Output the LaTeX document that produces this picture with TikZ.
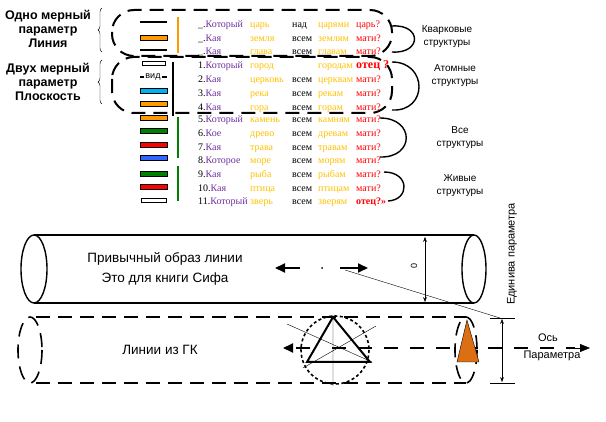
\documentclass[tikz,border=0pt]{standalone}
\usepackage{fontspec}
\setmainfont{Liberation Serif}
\newfontfamily\sansf{Liberation Sans}
\usetikzlibrary{arrows.meta,decorations.pathreplacing}
\definecolor{wpurple}{RGB}{112,48,160}
\definecolor{wgold}{RGB}{255,192,0}
\definecolor{wcyan}{RGB}{0,176,240}
\definecolor{wgreen}{RGB}{0,128,0}
\definecolor{wblue}{RGB}{51,102,255}
\definecolor{worange}{RGB}{255,153,0}
\definecolor{cone}{RGB}{220,110,20}
\tikzset{
  lbl/.style={font=\sansf\bfseries\fontsize{12.5}{14}\selectfont, align=center},
  side/.style={font=\sansf\fontsize{10}{13}\selectfont, align=center},
  cell/.style={anchor=base west, inner sep=0pt, font=\fontsize{10}{10}\selectfont},
  bar/.style={draw=black, line width=0.6pt},
  bigdash/.style={line width=2pt, dash pattern=on 14pt off 8pt},
  arcb/.style={line width=1.4pt}
}
\newcommand{\wrow}[7]{%
  \node[cell] at (198,#1+3.5) {#2\textcolor{wpurple}{#3}};
  \node[cell, text=wgold] at (250,#1+3.5) {#4};
  \node[cell] at (292,#1+3.5) {#5};
  \node[cell, text=wgold] at (318,#1+3.5) {#6};
  \node[cell, text=red] at (356,#1+3.5) {#7};}
\begin{document}
\begin{tikzpicture}[x=1pt, y=-1pt]
  \useasboundingbox (0,0) rectangle (606,422);
  % left labels
  \node[lbl] (one) at (48,29) {Одно мерный\\параметр\\Линия};
  \node[lbl] (two) at (48,82) {Двух мерный\\параметр\\Плоскость};
  \draw[decorate, decoration={brace, amplitude=4pt}] (102,52) -- (102,8);
  \draw[decorate, decoration={brace, amplitude=4pt}] (102,104) -- (102,60);
  % dashed groups
  \draw[bigdash, rounded corners=22pt] (112,10) rectangle (392,56);
  \draw[bigdash, rounded corners=22pt] (112,57) rectangle (392,113);
  % bars
  \draw[line width=1.5pt] (140,22) -- (167,22);
  \draw[bar, fill=worange] (140,35) rectangle (167,40);
  \draw[line width=1.5pt] (140,50) -- (167,50);
  \draw[bar, fill=white] (142,61) rectangle (165,65);
  \node[font=\sansf\fontsize{9}{9}\selectfont, fill=white, inner sep=1pt] (vid) at (153,77) {вид};
  \draw[line width=1.2pt] (140,77) -- (vid.west) (vid.east) -- (167,77);
  \foreach \y/\c in {88/wcyan, 101/worange, 115/worange, 128/wgreen, 142/red, 155/wblue, 171/wgreen, 184/red}
    \draw[bar, fill=\c] (140,\y) rectangle (167,\y+5);
  \draw[bar, fill=white] (141,198) rectangle (166,202);
  \draw[worange, line width=2pt] (178,17) -- (178,53);
  \draw[line width=2pt] (173,62) -- (173,116);
  \draw[wgreen, line width=2pt] (178,117) -- (178,158);
  \draw[wgreen, line width=2pt] (178,166) -- (178,201);
  % text rows
  \wrow{24}{\_.}{Который}{царь}{над}{царями}{царь?}
  \wrow{38}{\_.}{Кая}{земля}{всем}{землям}{мати?}
  \wrow{51}{\_.}{Кая}{глава}{всем}{главам}{мати?}
  \wrow{65}{1.}{Который}{город}{}{городам}{\textbf{\fontsize{12}{12}\selectfont отец ?}}
  \wrow{79}{2.}{Кая}{церковь}{всем}{церквам}{мати?}
  \wrow{93}{3.}{Кая}{река}{всем}{рекам}{мати?}
  \wrow{107}{4.}{Кая}{гора}{всем}{горам}{мати?}
  \wrow{119}{5.}{Который}{камень}{всем}{камням}{мати?}
  \wrow{133}{6.}{Кое}{древо}{всем}{древам}{мати?}
  \wrow{147}{7.}{Кая}{трава}{всем}{травам}{мати?}
  \wrow{160}{8.}{Которое}{море}{всем}{морям}{мати?}
  \wrow{174}{9.}{Кая}{рыба}{всем}{рыбам}{мати?}
  \wrow{188}{10.}{Кая}{птица}{всем}{птицам}{мати?}
  \wrow{201}{11.}{Который}{зверь}{всем}{зверям}{\textbf{отец?»}}
  % right groups
  \draw[arcb] (392,26) .. controls (422,24) and (422,54) .. (392,52);
  \node[side] (quark) at (447,37) {Кварковые\\структуры};
  \draw[arcb] (392,62) .. controls (428,62) and (428,112) .. (392,110);
  \node[side] (atom) at (455,76) {Атомные\\структуры};
  \draw[arcb] (380,118) .. controls (415,118) and (415,158) .. (380,157);
  \node[side] (all) at (460,138) {Все\\структуры};
  \draw[arcb] (384,172) .. controls (410,172) and (410,200) .. (388,201);
  \node[side] (live) at (460,186) {Живые\\структуры};
  % upper tube
  \draw[line width=1.4pt] (34,235) -- (474,235) (34,303) -- (474,303);
  \draw[line width=1.4pt] (34,269) ellipse (13 and 34);
  \draw[line width=1.4pt] (474,269) ellipse (12 and 34);
  \node[side, font=\sansf\fontsize{13.5}{20}\selectfont] (usual) at (165,269) {Привычный образ линии\\Это для книги Сифа};
  \coordinate (ua) at (322,268);
  \draw[line width=2pt, -{Triangle[length=10pt,width=9pt]}] (300,268) -- (275,268);
  \draw[line width=2pt, -{Triangle[length=10pt,width=9pt]}] (340,268) -- (368,268);
  \fill (ua) circle (1pt);
  \draw[{Stealth}-{Stealth}] (425,237) -- (425,302);
  \node[font=\sansf\fontsize{9}{9}\selectfont, rotate=90] (zero) at (414,266) {0};
  \draw (345,270) -- (500,318);
  % lower tube
  \draw[bigdash, line width=1.6pt] (36,317) -- (466,317) (36,383) -- (466,383);
  \draw[bigdash, line width=1.6pt] (30,350) ellipse (12 and 33);
  \draw[bigdash, line width=1.6pt] (466,350) ellipse (11 and 33);
  \node[side, font=\sansf\fontsize{13.5}{16}\selectfont] (gk) at (160,350) {Линии из ГК};
  \draw[line width=2pt, -{Triangle[length=10pt,width=9pt]}, dash pattern=on 14pt off 10pt] (310,348) -- (283,348);
  \draw[line width=2pt, dash pattern=on 14pt off 12pt] (332,348) -- (575,348);
  \draw[-{Triangle[length=10pt,width=8pt]}] (575,348) -- (590,348);
  \draw[line width=1.6pt, dash pattern=on 3pt off 2.5pt] (335,350) circle (34);
  \draw (287,324) -- (372,362) (376,326) -- (303,368) (333,317) -- (333,386);
  \draw[line width=2pt] (333,317) -- (307,362) -- (370,362) -- cycle;
  \draw[fill=cone] (467,320) -- (457,362) -- (479,362) -- cycle;
  \draw (490,318) -- (515,318) (490,383) -- (515,383);
  \draw[{Stealth}-{Stealth}] (502,319) -- (502,382);
  \node[side, font=\sansf\fontsize{11}{11}\selectfont, rotate=90] (unit) at (512,254) {Единива параметра};
  \node[side, font=\sansf\fontsize{11}{11}\selectfont] (axis) at (548,338) {Ось};
  \node[side, font=\sansf\fontsize{11}{11}\selectfont] (par) at (552,356) {Параметра};
\end{tikzpicture}
\end{document}
